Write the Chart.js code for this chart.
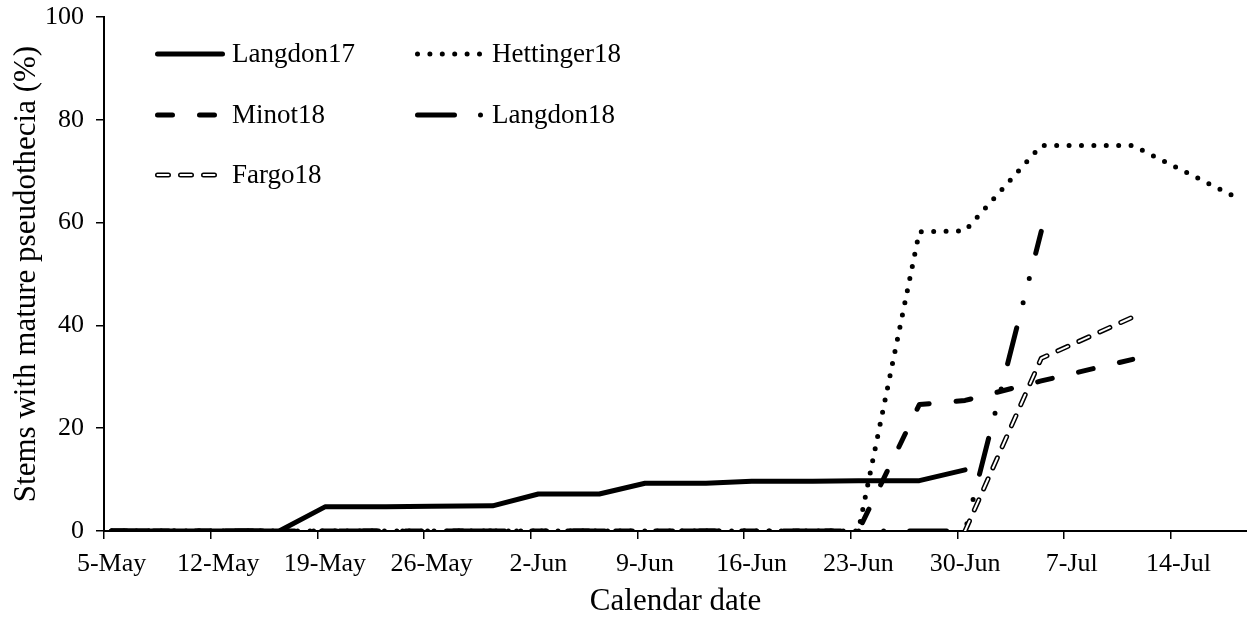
<!DOCTYPE html>
<html>
<head>
<meta charset="utf-8">
<script src="https://cdn.jsdelivr.net/npm/chart.js@4.4.1/dist/chart.umd.min.js"></script>
<style>
  html, body { margin: 0; padding: 0; background: #fff; }
  #wrap { width: 1247px; height: 619px; position: relative; }
</style>
</head>
<body>
<div id="wrap"><canvas id="myChart"></canvas></div>
<script>
// x values are days counted from 5-May
const tickDays = [0, 7, 14, 21, 28, 35, 42, 49, 56, 63, 70];
const tickLabels = ['5-May', '12-May', '19-May', '26-May', '2-Jun', '9-Jun', '16-Jun', '23-Jun', '30-Jun', '7-Jul', '14-Jul'];
const yTicks = [0, 20, 40, 60, 80, 100];

const langdon17Days = [0, 11, 14, 18, 21, 25, 28, 32, 35, 39, 42, 46, 49, 53, 56];
const langdon17Vals = [0, 0, 4.7, 4.7, 4.8, 4.9, 7.2, 7.2, 9.3, 9.3, 9.7, 9.7, 9.8, 9.8, 11.9];

const hettinger18Days = [0, 49, 53, 56, 61, 67, 74];
const hettinger18Vals = [0, 0, 58.2, 58.4, 75, 75, 64.6];

const minot18Days = [0, 49, 53, 56, 61, 67];
const minot18Vals = [0, 0, 24.6, 25.4, 29.2, 33.4];

const langdon18Days = [0, 56, 61];
const langdon18Vals = [0, 0, 58.3];

const fargo18Days = [56, 61, 67];
const fargo18Vals = [0, 33.6, 41.6];

const FONT = "'Liberation Serif', 'Times New Roman', serif";

function toPts(days, vals) {
  return days.map((d, i) => ({x: d, y: vals[i]}));
}

function lineSet(label, days, vals, dash, order, color, width) {
  return {
    label: label,
    data: toPts(days, vals),
    borderColor: color || '#000',
    borderWidth: width || 5,
    borderDash: dash,
    borderCapStyle: 'round',
    borderJoinStyle: 'round',
    pointRadius: 0,
    tension: 0,
    fill: false,
    order: order
  };
}

const dashes = {
  langdon17: [],
  hettinger18: [0, 12.4],
  minot18: [15, 27],
  langdon18: [37, 26, 0, 25, 0, 26],
  fargo18: [11, 12]
};

// legend drawn by hand, Excel puts it in a 2 column grid inside the plot
const legendPlugin = {
  id: 'gridLegend',
  afterDraw(chart) {
    const c = chart.ctx;
    const items = [
      {text: 'Langdon17', dash: dashes.langdon17, x: 155, y: 54, len: 65},
      {text: 'Hettinger18', dash: dashes.hettinger18, x: 415, y: 54, len: 63},
      {text: 'Minot18', dash: dashes.minot18, x: 155, y: 115, len: 63},
      {text: 'Langdon18', dash: dashes.langdon18, x: 415, y: 115, len: 66},
      {text: 'Fargo18', dash: dashes.fargo18, x: 155, y: 175, len: 63, hollow: true}
    ];
    c.save();
    items.forEach(it => {
      c.lineCap = 'round';
      c.setLineDash(it.dash);
      c.strokeStyle = '#000';
      c.lineWidth = 5;
      c.beginPath();
      c.moveTo(it.x + 2.5, it.y);
      c.lineTo(it.x + 2.5 + it.len, it.y);
      c.stroke();
      if (it.hollow) {
        c.strokeStyle = '#fff';
        c.lineWidth = 2;
        c.beginPath();
        c.moveTo(it.x + 2.5, it.y);
        c.lineTo(it.x + 2.5 + it.len, it.y);
        c.stroke();
      }
      c.setLineDash([]);
      c.fillStyle = '#000';
      c.font = '27px ' + FONT;
      c.textBaseline = 'middle';
      c.textAlign = 'left';
      c.fillText(it.text, it.x + 77, it.y + 1);
    });
    c.restore();
  }
};

const ctx = document.getElementById('myChart').getContext('2d');
const myChart = new Chart(ctx, {
  type: 'line',
  data: {
    datasets: [
      lineSet('Langdon17', langdon17Days, langdon17Vals, dashes.langdon17, 5),
      lineSet('Hettinger18', hettinger18Days, hettinger18Vals, dashes.hettinger18, 4),
      lineSet('Minot18', minot18Days, minot18Vals, dashes.minot18, 3),
      lineSet('Langdon18', langdon18Days, langdon18Vals, dashes.langdon18, 2),
      lineSet('Fargo18', fargo18Days, fargo18Vals, dashes.fargo18, 1),
      lineSet('Fargo18 inner', fargo18Days, fargo18Vals, dashes.fargo18, 0, '#fff', 2)
    ]
  },
  plugins: [legendPlugin],
  options: {
    responsive: true,
    maintainAspectRatio: false,
    animation: false,
    layout: { padding: {top: 17, right: 0, bottom: 0, left: 0} },
    plugins: {
      legend: { display: false },
      tooltip: { enabled: false }
    },
    scales: {
      x: {
        type: 'linear',
        position: 'bottom',
        min: -0.5,
        max: 74.5,
        afterBuildTicks: (scale) => {
          scale.ticks = tickDays.map(d => ({value: d - 0.5}));
        },
        afterFit: (scale) => { scale.height = 88; },
        ticks: {
          autoSkip: false,
          maxRotation: 0,
          labelOffset: 7.6,
          padding: 10,
          color: '#000',
          font: {family: FONT, size: 26},
          callback: (value, index) => tickLabels[index]
        },
        grid: {
          drawOnChartArea: false,
          drawTicks: true,
          tickLength: 8,
          color: '#000',
          lineWidth: 1.5
        },
        border: { color: '#000', width: 2 },
        title: {
          display: true,
          text: 'Calendar date',
          color: '#000',
          font: {family: FONT, size: 31, lineHeight: 1.1},
          padding: {top: 0, bottom: 0}
        }
      },
      y: {
        min: 0,
        max: 100,
        afterBuildTicks: (scale) => {
          scale.ticks = yTicks.map(v => ({value: v}));
        },
        afterFit: (scale) => {
          scale.width = 104;
          // tick padding would otherwise push the plot top down
          scale.paddingTop = 0;
          scale.paddingBottom = 0;
        },
        ticks: {
          padding: 12,
          color: '#000',
          font: {family: FONT, size: 26, lineHeight: 1}
        },
        grid: {
          drawOnChartArea: false,
          drawTicks: true,
          tickLength: 8,
          color: '#000',
          lineWidth: 1.5
        },
        border: { color: '#000', width: 2 },
        title: {
          display: true,
          text: 'Stems with mature pseudothecia (%)',
          color: '#000',
          font: {family: FONT, size: 31, lineHeight: 1.2},
          padding: {top: 8, bottom: 0}
        }
      }
    }
  }
});
</script>
</body>
</html>
